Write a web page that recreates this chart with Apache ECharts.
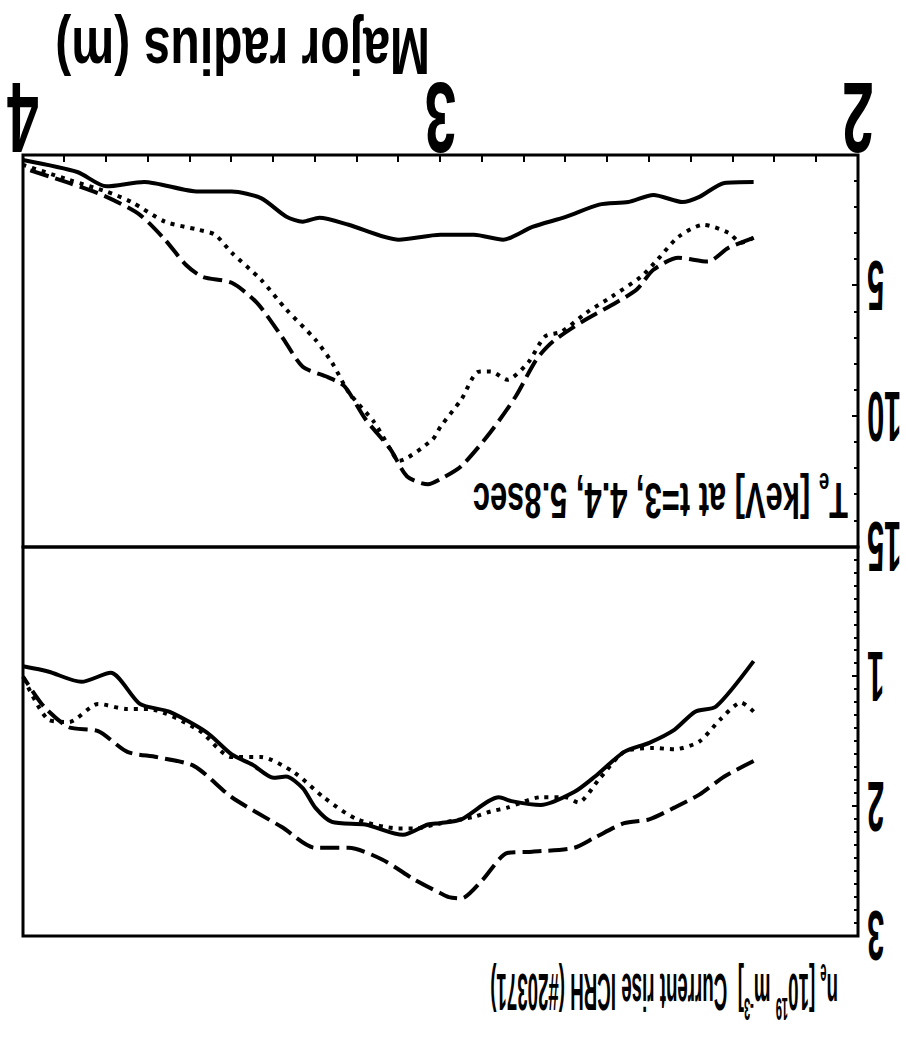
<!DOCTYPE html>
<html><head><meta charset="utf-8">
<script src="https://cdn.jsdelivr.net/npm/echarts@6/dist/echarts.min.js"></script>
<style>
html,body{margin:0;padding:0;background:#fff;overflow:hidden}
#c{width:909px;height:1048px;transform:rotate(180deg);transform-origin:50% 50%}
</style>
</head><body><div id="c"></div>
<script>
// ---- data: [major radius (m), value] ----
const neSolid = [[2.25,0.88],[2.34,1.23],[2.39,1.27],[2.44,1.41],[2.50,1.51],[2.56,1.58],[2.63,1.77],[2.68,1.89],[2.76,1.99],[2.83,1.96],[2.86,1.93],[2.95,2.1],[3.00,2.13],[3.03,2.14],[3.09,2.22],[3.18,2.14],[3.26,2.12],[3.30,2.01],[3.33,1.86],[3.37,1.77],[3.40,1.78],[3.45,1.68],[3.50,1.6],[3.56,1.43],[3.65,1.27],[3.72,1.21],[3.79,0.97],[3.86,1.04],[3.94,0.96],[4.00,0.92]];
const neDotted = [[2.25,1.27],[2.28,1.2],[2.33,1.33],[2.38,1.5],[2.44,1.56],[2.49,1.55],[2.56,1.58],[2.62,1.79],[2.67,1.97],[2.70,1.93],[2.76,1.93],[2.84,2.01],[2.88,2.04],[2.92,2.08],[3.00,2.13],[3.06,2.17],[3.10,2.17],[3.20,2.1],[3.28,1.93],[3.35,1.74],[3.43,1.62],[3.50,1.62],[3.58,1.41],[3.70,1.25],[3.75,1.25],[3.82,1.21],[3.89,1.35],[3.94,1.33],[4.00,1.0]];
const neDashed = [[2.25,1.65],[2.32,1.77],[2.38,1.91],[2.44,2.01],[2.50,2.1],[2.56,2.13],[2.63,2.24],[2.68,2.32],[2.78,2.35],[2.84,2.36],[2.90,2.57],[2.95,2.71],[2.98,2.7],[3.00,2.67],[3.06,2.57],[3.14,2.41],[3.22,2.32],[3.30,2.32],[3.38,2.16],[3.50,1.93],[3.59,1.69],[3.68,1.62],[3.75,1.58],[3.82,1.42],[3.89,1.39],[3.95,1.23],[4.00,1.0]];
const teSolid = [[2.25,1.03],[2.32,1.07],[2.38,1.6],[2.42,1.8],[2.49,1.53],[2.55,1.8],[2.62,1.9],[2.70,2.37],[2.78,2.75],[2.85,3.24],[2.92,3.05],[3.00,3.05],[3.10,3.24],[3.22,2.67],[3.29,2.4],[3.33,2.55],[3.37,2.35],[3.43,1.65],[3.50,1.4],[3.58,1.4],[3.71,1.03],[3.80,1.2],[3.87,0.65],[4.00,0.19]];
const teDotted = [[2.25,3.17],[2.28,3.36],[2.31,2.98],[2.37,2.67],[2.43,3.13],[2.48,4.0],[2.52,4.66],[2.59,5.42],[2.65,6.03],[2.71,6.76],[2.75,6.95],[2.79,7.94],[2.84,8.6],[2.88,8.28],[2.91,8.3],[2.95,9.35],[3.00,10.4],[3.02,10.9],[3.10,11.7],[3.12,11.26],[3.16,10.2],[3.22,9.08],[3.26,7.94],[3.30,7.06],[3.37,5.9],[3.43,4.77],[3.50,3.74],[3.54,3.05],[3.58,2.86],[3.66,2.55],[3.74,1.8],[3.80,1.4],[3.89,0.95],[4.00,0.38]];
const teDashed = [[2.25,3.17],[2.31,3.55],[2.36,4.08],[2.43,3.93],[2.49,4.39],[2.53,5.15],[2.58,5.65],[2.66,6.37],[2.73,7.13],[2.77,7.82],[2.82,9.24],[2.88,10.6],[2.95,11.9],[3.00,12.4],[3.03,12.6],[3.08,12.3],[3.12,11.26],[3.18,10.1],[3.23,8.85],[3.27,8.5],[3.33,8.1],[3.38,6.95],[3.44,5.65],[3.50,4.89],[3.57,4.66],[3.61,4.2],[3.66,3.24],[3.72,2.29],[3.80,1.6],[3.89,1.07],[4.00,0.5]];
const xTickLabels = ['2','3','4'];
const neTickLabels = ['1','2','3'];
const teTickLabels = ['5','10','15'];
const xTitle = 'Major radius (m)';
const teTitleParts = [['T','n'],['e','sub'],[' [keV] at t=3, 4.4, 5.8sec','n']];
const neTitleParts = [['n','n'],['e','sub'],[' [10','n'],['19','sup'],[' m','n'],['-3','sup'],[']  Current rise ICRH (#20371)','n']];

const FONT = '"Liberation Sans", Arial, sans-serif';
const chart = echarts.init(document.getElementById('c'), null, {renderer:'svg'});
const tickStyle = {color:'#000', width:2};
function yAx(gi, max, interval, minorSplit){
  return {gridIndex:gi, type:'value', min:0, max:max, interval:interval,
    axisLine:{show:false}, axisLabel:{show:false}, splitLine:{show:false},
    axisTick:{show:true, inside:true, length:6, lineStyle:tickStyle},
    minorTick:{show:true, splitNumber:minorSplit, length:4, lineStyle:tickStyle}};
}
function line(data, gi, type){
  return {type:'line', xAxisIndex:gi, yAxisIndex:gi, data:data, symbol:'none', showSymbol:false,
    smooth:0.25, lineStyle:{color:'#000', width:4, type:type, cap:'butt'}, silent:true};
}
chart.setOption({
  animation:false,
  backgroundColor:'#fff',
  grid:[
    {left:51, right:23, top:112, height:389, show:true, borderColor:'#000', borderWidth:3},
    {left:51, right:23, top:501, height:392, show:true, borderColor:'#000', borderWidth:3}
  ],
  xAxis:[
    {gridIndex:0, type:'value', min:2, max:4, interval:1, axisLine:{show:false}, axisLabel:{show:false}, splitLine:{show:false}, axisTick:{show:false}},
    {gridIndex:1, type:'value', min:2, max:4, interval:1, axisLine:{show:false}, axisLabel:{show:false}, splitLine:{show:false},
      axisTick:{show:true, inside:true, length:7, lineStyle:tickStyle},
      minorTick:{show:true, splitNumber:10, length:7, lineStyle:tickStyle}}
  ],
  yAxis:[yAx(0,3,1,10), yAx(1,15,5,5)],
  series:[
    line(neSolid,0,'solid'), line(neDotted,0,[4,6]), line(neDashed,0,[19,7]),
    line(teSolid,1,'solid'), line(teDotted,1,[4,6]), line(teDashed,1,[19,7])
  ]
});

// ---- text (real text, scaled horizontally to the narrow face of the original) ----
const ctx = document.createElement('canvas').getContext('2d');
function tw(t, size){ ctx.font = 'bold ' + size + 'px ' + FONT; return ctx.measureText(t).width; }
function txt(x, y, text, size, sx, align, rich){
  const st = {text:text, fill:'#000', fontSize:size, fontFamily:FONT, fontWeight:'bold',
    align:align, verticalAlign:'middle', textAlign:align, textVerticalAlign:'middle'};
  if (rich) st.rich = rich;
  return {type:'text', x:x, y:y, scaleX:sx, scaleY:1, silent:true, style:st};
}
function richDef(size){
  const s = Math.round(size*0.6);
  return {
    n:{fontSize:size, fontFamily:FONT, fontWeight:'bold', fill:'#000', lineHeight:Math.round(size*1.25), verticalAlign:'middle'},
    sub:{fontSize:s, fontFamily:FONT, fontWeight:'bold', fill:'#000', lineHeight:s, verticalAlign:'bottom'},
    sup:{fontSize:s, fontFamily:FONT, fontWeight:'bold', fill:'#000', lineHeight:s, verticalAlign:'top'}
  };
}
function richText(parts){ return parts.map(p => '{' + p[1] + '|' + p[0] + '}').join(''); }
function richWidth(parts, size){
  const s = Math.round(size*0.6);
  return parts.reduce((a,p) => a + tw(p[0], p[1]==='n' ? size : s), 0);
}
const px = (gi, x, y) => chart.convertToPixel({gridIndex:gi}, [x, y]);
const g = [];
const gridLeft = px(1, 2, 0)[0];
xTickLabels.forEach(l => { const p = px(1, +l, 0); g.push(txt(p[0], 930, l, 100, 0.57, 'center')); });
neTickLabels.forEach(l => { const p = px(0, 2, +l); g.push(txt(gridLeft - 9, p[1], l, 70, 0.44, 'right')); });
teTickLabels.forEach(l => { const p = px(1, 2, +l); g.push(txt(gridLeft - 9, p[1], l, 70, 0.44, 'right')); });
g.push(txt(479, 997, xTitle, 66, 375 / tw(xTitle, 66), 'left'));
g.push(txt(61, 548, richText(teTitleParts), 50, 375 / richWidth(teTitleParts, 50), 'left', richDef(50)));
g.push(txt(71, 56, richText(neTitleParts), 52, 348 / richWidth(neTitleParts, 52), 'left', richDef(52)));
chart.setOption({graphic:{elements:g}});
</script>
</body></html>
